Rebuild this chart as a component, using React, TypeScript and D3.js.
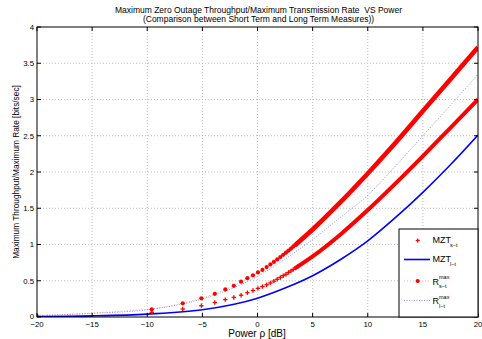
import React from "react";
import * as d3 from "d3";

// ---- data ----
const xTicks = [-20, -15, -10, -5, 0, 5, 10, 15, 20];
const yTicks = [0, 0.5, 1, 1.5, 2, 2.5, 3, 3.5, 4];

// smooth curves, power in dB
const powerDb = [-20, -15, -10, -5, 0, 2.5, 5, 7.5, 10, 12.5, 15, 17.5, 20];
const mztLt = [0.005, 0.015, 0.04, 0.1, 0.26, 0.4, 0.57, 0.79, 1.05, 1.37, 1.72, 2.1, 2.51];
const rLt = [0.02, 0.05, 0.1, 0.25, 0.56, 0.8, 1.07, 1.37, 1.68, 2.08, 2.5, 2.92, 3.35];

// individually visible markers (low power region)
const markerDb = [-20, -9.59, -6.78, -5.09, -3.87, -2.92, -2.15, -1.49, -0.92, -0.41, 0.04, 0.45, 0.83, 1.17, 1.49, 1.79, 2.07, 2.33, 2.58, 2.81, 3.03, 3.24, 3.44, 3.63];
const rStMarkers = [0.008, 0.106, 0.189, 0.258, 0.32, 0.38, 0.43, 0.487, 0.535, 0.575, 0.615, 0.65, 0.688, 0.725, 0.76, 0.794, 0.826, 0.857, 0.887, 0.916, 0.943, 0.97, 0.995, 1.02];
const mztStMarkers = [0.005, 0.065, 0.11, 0.156, 0.2, 0.24, 0.27, 0.3, 0.335, 0.365, 0.395, 0.42, 0.445, 0.47, 0.495, 0.52, 0.545, 0.57, 0.59, 0.615, 0.635, 0.655, 0.675, 0.695];

// dense-marker region (markers merge into a band)
const denseDb = [3.4, 5, 7.5, 10, 12.5, 15, 17.5, 20];
const rStDense = [0.99, 1.207, 1.58, 1.98, 2.4, 2.84, 3.28, 3.72];
const mztStDense = [0.67, 0.835, 1.135, 1.475, 1.84, 2.22, 2.61, 3.0];

const FONT = "'Liberation Sans', Arial, Helvetica, sans-serif";

export default function App() {
  const W = 482, H = 339;
  const L = 37, R = 478, T = 27, B = 317;
  const x = d3.scaleLinear().domain([-20, 20]).range([L, R]);
  const y = d3.scaleLinear().domain([0, 4]).range([B, T]);

  const line = d3
    .line<[number, number]>()
    .x((d) => x(d[0]))
    .y((d) => y(d[1]))
    .curve(d3.curveMonotoneX);
  const straight = d3
    .line<[number, number]>()
    .x((d) => x(d[0]))
    .y((d) => y(d[1]));

  const zip = (a: number[], b: number[]) => a.map((v, i) => [v, b[i]] as [number, number]);

  const mztLtPath = line(zip(powerDb, mztLt)) || "";
  const rLtPath = line(zip(powerDb, rLt)) || "";
  const rStDensePath = line(zip(denseDb, rStDense)) || "";
  const mztStDensePath = line(zip(denseDb, mztStDense)) || "";
  const rStDotted = straight(zip(markerDb, rStMarkers)) || "";

  const red = "#ff0000";
  const blue = "#0000ff";
  const lightBlue = "#8f8fff";
  const grid = "#bdbdbd";
  const tick = 4;

  const plus = (cx: number, cy: number, s: number, k: string) => (
    <g key={k} stroke={red} strokeWidth={1.3}>
      <line x1={cx - s} x2={cx + s} y1={cy} y2={cy} />
      <line x1={cx} x2={cx} y1={cy - s} y2={cy + s} />
    </g>
  );

  // legend
  const lgX = 399, lgY = 229, lgW = R - lgX, lgH = B - lgY;
  const rowY = [240.5, 259.5, 281, 300.5];

  return (
    <svg width={W} height={H} style={{ position: "absolute", left: 0, top: 0, background: "#fff" }} fontFamily={FONT}>
      <defs>
        <clipPath id="plotclip">
          <rect x={L} y={T} width={R - L} height={B - T} />
        </clipPath>
      </defs>
      <rect x={0} y={0} width={W} height={H} fill="#fff" />

      {/* title */}
      <text x={258.5} y={12.8} fontSize={8.5} textAnchor="middle" fill="#000" style={{ whiteSpace: "pre" }}>
        {"Maximum Zero Outage Throughput/Maximum Transmission Rate  VS Power"}
      </text>
      <text x={258.5} y={22.3} fontSize={8.5} textAnchor="middle" fill="#000">
        (Comparison between Short Term and Long Term Measures))
      </text>

      {/* grid */}
      {xTicks.slice(1, -1).map((t) => (
        <line key={"gx" + t} x1={x(t)} x2={x(t)} y1={T} y2={B} stroke={grid} strokeWidth={1} strokeDasharray="1,2" />
      ))}
      {yTicks.slice(1, -1).map((t) => (
        <line key={"gy" + t} x1={L} x2={R} y1={y(t)} y2={y(t)} stroke={grid} strokeWidth={1} strokeDasharray="1,2" />
      ))}

      {/* curves */}
      <g clipPath="url(#plotclip)" fill="none">
        <path d={rLtPath} stroke={lightBlue} strokeWidth={1} strokeDasharray="1,1.5" />
        <path d={rStDotted} stroke={red} strokeWidth={0.7} strokeDasharray="1,2" opacity={0.5} />
        <path d={mztLtPath} stroke={blue} strokeWidth={1.6} />
        <path d={mztStDensePath} stroke={red} strokeWidth={4} />
        <path d={rStDensePath} stroke={red} strokeWidth={4.6} />
        {markerDb.map((d, i) => (
          <circle key={"rd" + i} cx={x(d)} cy={y(rStMarkers[i])} r={2.1} fill={red} stroke="none" />
        ))}
        {markerDb.map((d, i) => plus(x(d), y(mztStMarkers[i]), 2.2, "mp" + i))}
      </g>

      {/* axes frame */}
      <rect x={L} y={T} width={R - L} height={B - T} fill="none" stroke="#000" strokeWidth={1} />
      {xTicks.map((t) => (
        <g key={"tx" + t} stroke="#000" strokeWidth={1}>
          <line x1={x(t)} x2={x(t)} y1={B} y2={B - tick} />
          <line x1={x(t)} x2={x(t)} y1={T} y2={T + tick} />
        </g>
      ))}
      {yTicks.map((t) => (
        <g key={"ty" + t} stroke="#000" strokeWidth={1}>
          <line x1={L} x2={L + tick} y1={y(t)} y2={y(t)} />
          <line x1={R} x2={R - tick} y1={y(t)} y2={y(t)} />
        </g>
      ))}

      {/* tick labels */}
      {xTicks.map((t) => (
        <text key={"lx" + t} x={x(t)} y={326.5} fontSize={7.8} textAnchor="middle" fill="#000">
          {t < 0 ? "\u2212" + Math.abs(t) : String(t)}
        </text>
      ))}
      {yTicks.map((t) => (
        <text key={"ly" + t} x={34} y={y(t) + (t === 0 ? 1.5 : 2.8)} fontSize={7.8} textAnchor="end" fill="#000">
          {String(t)}
        </text>
      ))}

      {/* axis labels */}
      <text x={257} y={336.5} fontSize={10} textAnchor="middle" fill="#000">
        Power ρ [dB]
      </text>
      <text
        transform={`translate(18.5, ${(T + B) / 2}) rotate(-90)`}
        fontSize={8.3}
        textAnchor="middle"
        fill="#000"
      >
        Maximum Throughput/Maximum Rate [bits/sec]
      </text>

      {/* legend */}
      <rect x={lgX} y={lgY} width={lgW} height={lgH} fill="#fff" stroke="#000" strokeWidth={1} />
      {plus(417.7, rowY[0], 2, "lg0")}
      <line x1={404} x2={430} y1={rowY[1]} y2={rowY[1]} stroke={blue} strokeWidth={1.6} />
      <line x1={404} x2={430} y1={rowY[2]} y2={rowY[2]} stroke={red} strokeWidth={0.7} strokeDasharray="1,2" opacity={0.5} />
      <circle cx={417.7} cy={rowY[2]} r={2.1} fill={red} />
      <line x1={404} x2={430} y1={rowY[3]} y2={rowY[3]} stroke={lightBlue} strokeWidth={1} strokeDasharray="1,1.5" />

      <text x={432.5} y={rowY[0] + 2.5} fontSize={9} fill="#000">MZT</text>
      <text x={450} y={rowY[0] + 6} fontSize={5.5} fill="#000">s−t</text>
      <text x={432.5} y={rowY[1] + 2.5} fontSize={9} fill="#000">MZT</text>
      <text x={450} y={rowY[1] + 6} fontSize={5.5} fill="#000">l−t</text>
      <text x={432.5} y={rowY[2] + 3.5} fontSize={9} fill="#000">R</text>
      <text x={439} y={rowY[2] - 2} fontSize={5.5} fill="#000">max</text>
      <text x={439} y={rowY[2] + 7} fontSize={5.5} fill="#000">s−t</text>
      <text x={432.5} y={rowY[3] + 3.5} fontSize={9} fill="#000">R</text>
      <text x={439} y={rowY[3] - 2} fontSize={5.5} fill="#000">max</text>
      <text x={439} y={rowY[3] + 7} fontSize={5.5} fill="#000">l−t</text>
    </svg>
  );
}
